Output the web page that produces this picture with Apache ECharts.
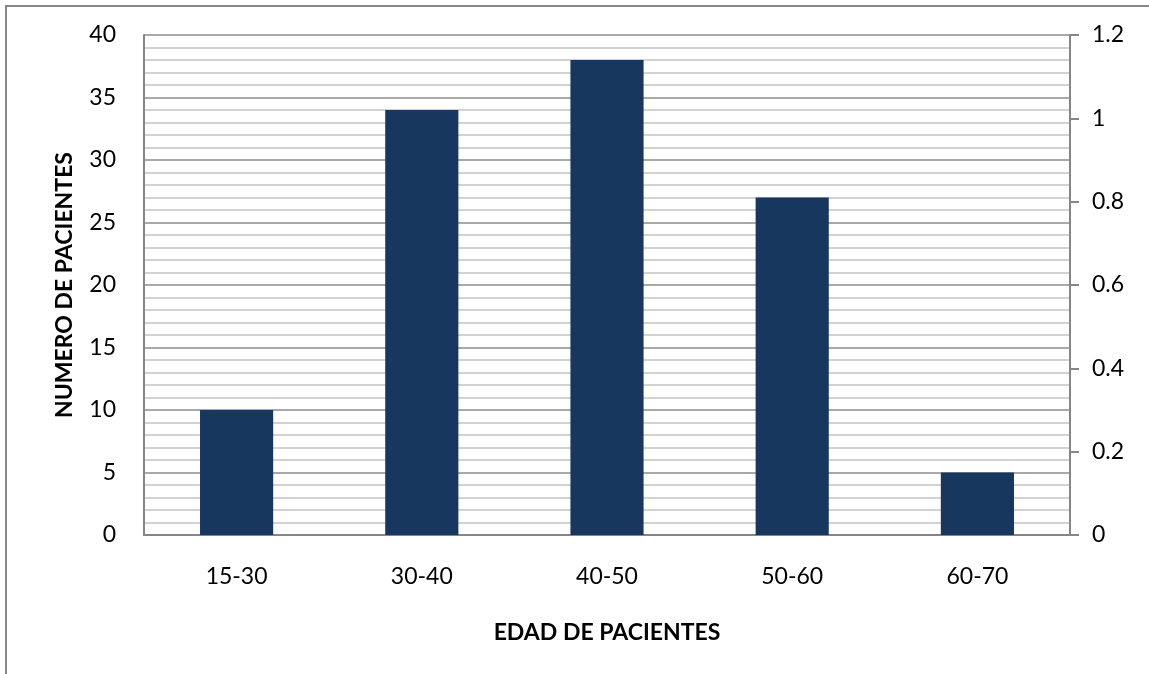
<!DOCTYPE html>
<html>
<head>
<meta charset="utf-8">
<script src="https://cdn.jsdelivr.net/npm/echarts@6/dist/echarts.min.js"></script>
<style>
  html, body { margin: 0; padding: 0; background: #fff; }
  #chart { width: 1149px; height: 674px; }
</style>
</head>
<body>
<div id="chart"></div>
<script>
// Age groups and patient counts
const categories = ['15-30', '30-40', '40-50', '50-60', '60-70'];
const patients = [10, 34, 38, 27, 5];

const FONT = 'Lato';
const AXIS_GREY = '#868686';

const chart = echarts.init(document.getElementById('chart'), null, { renderer: 'canvas' });

chart.setOption({
  backgroundColor: '#ffffff',
  animation: false,
  textStyle: { fontFamily: FONT },
  graphic: [
    // outer frame (left and top edges)
    { type: 'line', shape: { x1: 6, y1: 6, x2: 6, y2: 680 }, style: { stroke: AXIS_GREY, lineWidth: 2 } },
    { type: 'line', shape: { x1: 5, y1: 6, x2: 1160, y2: 6 }, style: { stroke: AXIS_GREY, lineWidth: 2 } }
  ],
  grid: { left: 144, right: 79, top: 35, bottom: 139, containLabel: false },
  xAxis: {
    type: 'category',
    data: categories,
    name: 'EDAD DE PACIENTES',
    nameLocation: 'middle',
    nameGap: 86,
    nameTextStyle: { fontFamily: FONT, fontWeight: 'bold', fontSize: 23, color: '#000' },
    axisLine: { show: true, lineStyle: { color: AXIS_GREY, width: 2 } },
    axisTick: { show: false },
    axisLabel: { color: '#000', fontSize: 23, fontFamily: FONT, margin: 30 },
    splitLine: { show: false }
  },
  yAxis: [
    {
      type: 'value',
      min: 0,
      max: 40,
      interval: 5,
      name: 'NUMERO DE PACIENTES',
      nameLocation: 'middle',
      nameGap: 68,
      nameRotate: 90,
      nameTextStyle: { fontFamily: FONT, fontWeight: 'bold', fontSize: 23, color: '#000' },
      axisLine: { show: true, lineStyle: { color: AXIS_GREY, width: 2 } },
      axisTick: { show: false },
      axisLabel: { color: '#000', fontSize: 23, fontFamily: FONT, margin: 28 },
      splitLine: { show: true, lineStyle: { color: '#8c8c8c', width: 1.5 } },
      minorTick: { show: false, splitNumber: 5 },
      minorSplitLine: { show: true, lineStyle: { color: '#c4c4c4', width: 1.5 } }
    },
    {
      type: 'value',
      position: 'right',
      min: 0,
      max: 1.2,
      interval: 0.2,
      axisLine: { show: true, lineStyle: { color: AXIS_GREY, width: 2 } },
      axisTick: { show: true, inside: false, length: 9, lineStyle: { color: AXIS_GREY, width: 2 } },
      axisLabel: { color: '#000', fontSize: 23, fontFamily: FONT, margin: 22,
        formatter: v => String(Math.round(v * 10) / 10) },
      splitLine: { show: false }
    }
  ],
  series: [
    {
      type: 'bar',
      data: patients,
      yAxisIndex: 0,
      barWidth: '39.5%',
      itemStyle: { color: '#17375e' }
    }
  ]
});
</script>
</body>
</html>
